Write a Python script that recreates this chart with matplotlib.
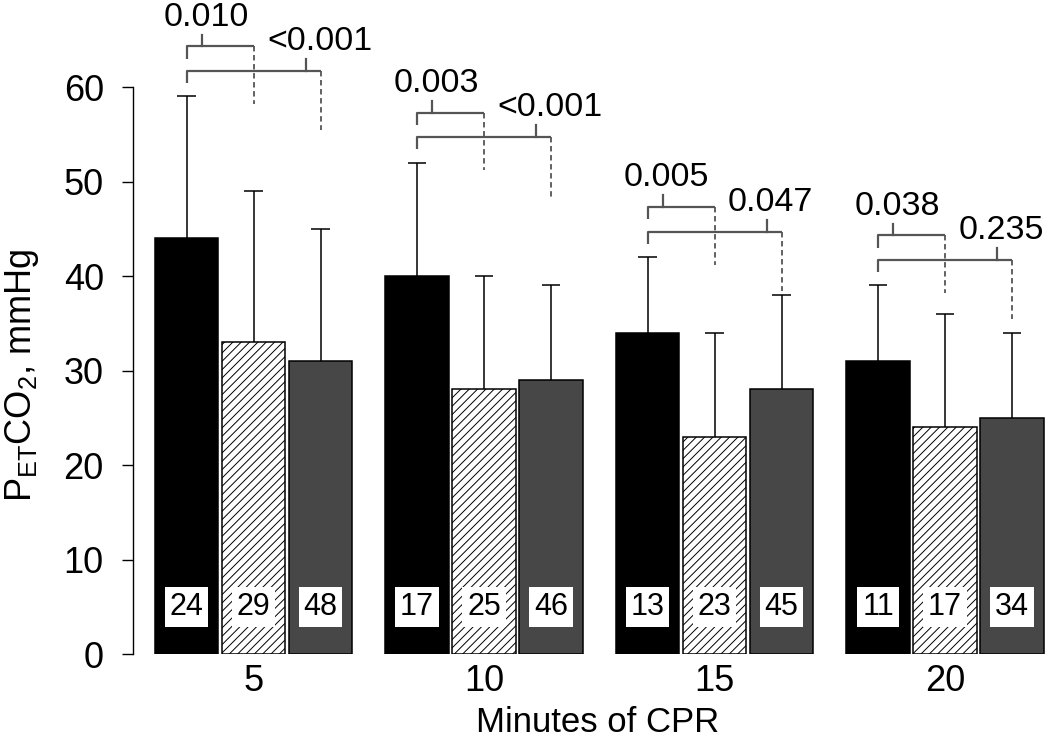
import matplotlib
matplotlib.use("Agg")
from matplotlib import pyplot as plt
import numpy as np

plt.rcParams['font.family'] = ['Liberation Sans', 'DejaVu Sans']
plt.rcParams['mathtext.default'] = 'regular'
plt.rcParams['hatch.linewidth'] = 0.7

# data
minutes = ["5", "10", "15", "20"]
means = [[44, 33, 31],
         [40, 28, 29],
         [34, 23, 28],
         [31, 24, 25]]
sd = [[15, 16, 14],
      [12, 12, 10],
      [8, 11, 10],
      [8, 12, 9]]
counts = [[24, 29, 48],
          [17, 25, 46],
          [13, 23, 45],
          [11, 17, 34]]
p_first = ["0.010", "0.003", "0.005", "0.038"]
p_second = ["<0.001", "<0.001", "0.047", "0.235"]

colors = ["black", "white", "#474747"]
hatches = [None, "////", None]

group_step = 3.44
bar_w = 0.95

fig = plt.figure(figsize=(10.5, 7.46), dpi=100)
ax = fig.add_axes([133 / 1050, 1 - 654 / 746, 917 / 1050, 654 / 746])

centers = np.arange(len(minutes)) * group_step
for k in range(3):
    xs = centers + (k - 1) * 1.0
    m = np.array([row[k] for row in means])
    s = np.array([row[k] for row in sd])
    ax.bar(xs, m, width=bar_w, color=colors[k], hatch=hatches[k],
           edgecolor="black", linewidth=1.1, zorder=2)
    ax.vlines(xs, m, m + s, color="black", linewidth=1.1, zorder=3)
    ax.hlines(m + s, xs - 0.14, xs + 0.14, color="black", linewidth=1.1, zorder=3)
    for x, n in zip(xs, [row[k] for row in counts]):
        ax.text(x, 5, str(n), ha="center", va="center", fontsize=22, zorder=4,
                bbox=dict(boxstyle="square,pad=0.16", fc="white", ec="none"))

# significance brackets
bc = "#555555"
for g in range(len(minutes)):
    xs = centers[g] + np.array([-1.0, 0.0, 1.0])
    top = max(means[g][k] + sd[g][k] for k in range(3))
    specs = [(xs[1], top + 5.3, top - 0.8, 0.23, p_first[g]),
             (xs[2], top + 2.7, top - 3.6, 0.89, p_second[g])]
    for xr, yb, yend, frac, lab in specs:
        xl = xs[0]
        ax.plot([xl, xl, xr], [yb - 1.3, yb, yb], color=bc, lw=1.6,
                solid_capstyle="butt", clip_on=False)
        ax.plot([xr, xr], [yb, yend], color=bc, lw=1.3, ls=(0, (3, 2)),
                clip_on=False)
        xt = xl + frac * (xr - xl)
        ax.plot([xt, xt], [yb, yb + 1.25], color=bc, lw=1.6, clip_on=False)
        ax.text(xt - 0.58, yb + 2.2, lab, ha="left", va="baseline",
                fontsize=24.5, clip_on=False)

ax.set_xlim(-1.8, 917 / 67 - 1.8)
ax.set_ylim(0, 654 / 9.45)
ax.set_yticks(range(0, 61, 10))
ax.set_xticks(centers)
ax.set_xticklabels(minutes)
ax.tick_params(axis="x", length=0, pad=7, labelsize=26)
ax.tick_params(axis="y", length=8, width=1.0, pad=13, labelsize=26)
for side in ["top", "right", "bottom"]:
    ax.spines[side].set_visible(False)
ax.spines["left"].set_bounds(0, 60)
ax.spines["left"].set_linewidth(1.0)

ax.set_xlabel("Minutes of CPR", fontsize=25)
ax.xaxis.set_label_coords(0.507, -0.079)
ax.set_ylabel("P$_{ET}$CO$_2$, mmHg", fontsize=26)
ax.yaxis.set_label_coords(-0.100, 29.5 / (654 / 9.45))

fig.savefig("out.png", dpi=100)
